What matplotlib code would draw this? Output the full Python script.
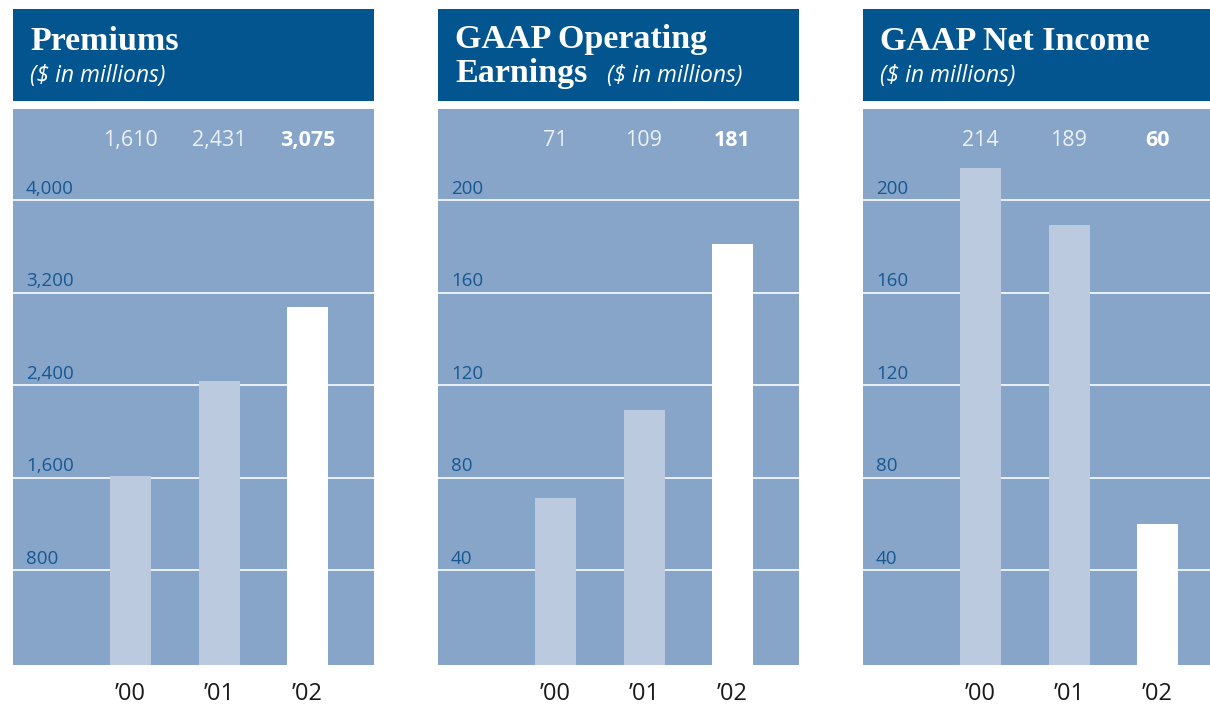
import numpy as np
import matplotlib
matplotlib.use("Agg")
import matplotlib.pyplot as plt
import matplotlib.transforms as mtransforms

# chart data
years = ["\u201900", "\u201901", "\u201902"]
premiums = [1610, 2431, 3075]
operating_earnings = [71, 109, 181]
net_income = [214, 189, 60]
value_labels_premiums = ["1,610", "2,431", "3,075"]
value_labels_operating = ["71", "109", "181"]
value_labels_net = ["214", "189", "60"]
ticks_premiums = [800, 1600, 2400, 3200, 4000]
ticks_small = [40, 80, 120, 160, 200]
tick_labels_premiums = ["800", "1,600", "2,400", "3,200", "4,000"]
tick_labels_small = ["40", "80", "120", "160", "200"]

HEADER = "#02558e"
PANEL = "#87a5c9"
BAR = "#bccae0"
TICK = "#175893"
SANS = ["Open Sans", "DejaVu Sans"]
SERIF = ["Liberation Serif", "DejaVu Serif"]

W, H = 1210, 707
fig = plt.figure(figsize=(W / 100, H / 100), dpi=100)
fig.patch.set_facecolor("white")


def header(left, lines, sub_pos):
    ax = fig.add_axes([left / W, (H - 101) / H, 361 / W, 92 / H])
    ax.set_facecolor(HEADER)
    ax.set_xlim(0, 1)
    ax.set_ylim(0, 1)
    ax.set_xticks([])
    ax.set_yticks([])
    for s in ax.spines.values():
        s.set_visible(False)
    for txt, y in lines:
        ax.text(0.047, y, txt, color="white", fontsize=24.5, fontweight="bold",
                family=SERIF, va="baseline", ha="left")
    ax.text(sub_pos[0], sub_pos[1], "($ in millions)", color="white", fontsize=16.5,
            style="italic", family=SANS, va="baseline", ha="left")


def panel(left, values, labels, ticks, tick_labels, step):
    ax = fig.add_axes([left / W, 42 / H, 361 / W, 556 / H])
    ax.set_facecolor(PANEL)
    x = np.arange(len(values))
    ymin = -2.5 / 92.5 * step
    ax.set_xlim(-1.328, 2.751)
    ax.set_ylim(ymin, 553.5 / 92.5 * step)
    for t in ticks:
        ax.axhline(t, color="white", lw=1.3, alpha=0.9, zorder=1)
    colors = [BAR, BAR, "white"]
    # bars run down to the bottom edge of the panel
    ax.bar(x, np.array(values) - ymin, bottom=ymin, width=0.463, color=colors, zorder=2)
    trans = mtransforms.blended_transform_factory(ax.transAxes, ax.transData)
    for t, tl in zip(ticks, tick_labels):
        ax.annotate(tl, (0.036, t), xycoords=trans, xytext=(0, 4.5),
                    textcoords="offset points", color=TICK, fontsize=13.5,
                    family=SANS, va="baseline", ha="left", zorder=3)
    vtrans = mtransforms.blended_transform_factory(ax.transData, ax.transAxes)
    for i, lab in enumerate(labels):
        bold = i == len(labels) - 1
        ax.text(x[i], 0.9335, lab, transform=vtrans, ha="center", va="baseline",
                fontsize=15.5, family=SANS, color="white" if bold else "#edf1f7",
                fontweight="bold" if bold else "normal")
        ax.text(x[i], -0.052, years[i], transform=vtrans, ha="center", va="center",
                fontsize=17, family=SANS, color="#1a1a1a", clip_on=False)
    ax.set_xticks([])
    ax.set_yticks([])
    for s in ax.spines.values():
        s.set_visible(False)
    return ax


header(13, [("Premiums", 0.554)], (0.047, 0.207))
header(438, [("GAAP Operating", 0.576), ("Earnings", 0.21)], (0.468, 0.21))
header(863, [("GAAP Net Income", 0.554)], (0.047, 0.207))

panel(13, premiums, value_labels_premiums, ticks_premiums, tick_labels_premiums, 800)
panel(438, operating_earnings, value_labels_operating, ticks_small, tick_labels_small, 40)
panel(863, net_income, value_labels_net, ticks_small, tick_labels_small, 40)

fig.savefig("out.png", dpi=100)
